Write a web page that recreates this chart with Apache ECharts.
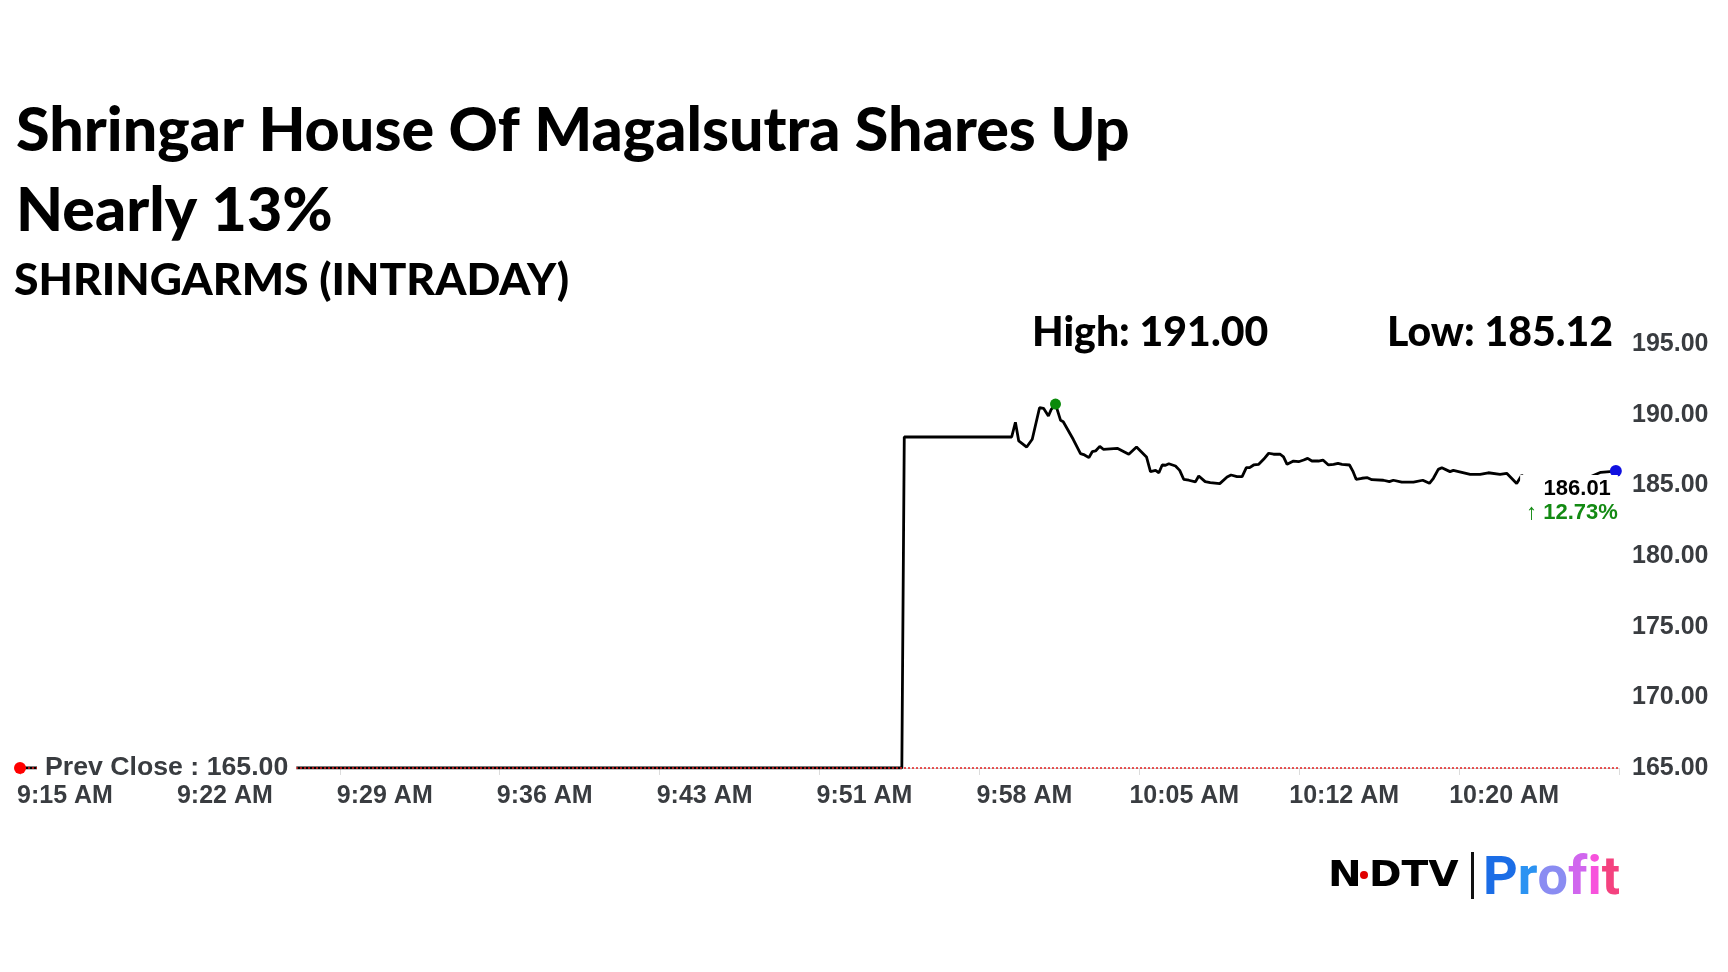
<!DOCTYPE html>
<html><head><meta charset="utf-8">
<script src="https://cdn.jsdelivr.net/npm/echarts@6/dist/echarts.min.js"></script>
<style>html,body{margin:0;padding:0;background:#fff}#c{width:1728px;height:972px}</style>
</head><body><div id="c"></div>
<script>
// ---- texts ----
const titleText = 'Shringar House Of Magalsutra Shares Up\nNearly 13%';
const subtitleText = 'SHRINGARMS (INTRADAY)';
const highValue = 191.00;
const lowValue = 185.12;
const prevClose = 165.00;
const lastPrice = 186.01;
const changePct = 12.73;

// ---- axes ----
const xTickLabels = ['9:15 AM','9:22 AM','9:29 AM','9:36 AM','9:43 AM','9:51 AM','9:58 AM','10:05 AM','10:12 AM','10:20 AM',''];
const xTickStepMin = 65 / 9;      // minutes between labelled ticks
const yAxisMin = 165, yAxisMax = 195, yAxisStep = 5;

// ---- series (minutes after 9:15 AM, price) ----
const minutesFromOpen = [
  0, 39.83, 39.94, 44.79, 44.96, 45.11, 45.47, 45.72, 46.05, 46.23, 46.45, 46.58, 46.77,
  47.00, 47.12, 47.57, 47.90, 48.08, 48.28, 48.43, 48.58, 48.77, 48.93, 49.56, 50.08,
  50.43, 50.88, 51.06, 51.29, 51.44, 51.59, 51.74, 51.89, 52.19, 52.38, 52.56, 52.79,
  53.09, 53.24, 53.53, 53.76, 54.19, 54.52, 54.70, 54.97, 55.20, 55.39, 55.54, 55.72,
  55.95, 56.17, 56.40, 56.62, 56.92, 57.07, 57.23, 57.52, 57.75, 57.98, 58.16, 58.35,
  58.65, 58.85, 59.10, 59.33, 59.53, 59.71, 60.05, 60.20, 60.35, 60.61, 60.86, 61.06,
  61.58, 61.85, 62.03, 62.41, 62.94, 63.36, 63.66, 63.84, 64.06, 64.22, 64.59, 64.74,
  65.50, 65.95, 66.32, 66.85, 67.15, 67.60, 67.83, 68.05, 68.42, 69.55, 70.90, 71.40, 72.08
];
const prices = [
  165.00, 165.00, 188.42, 188.42, 189.46, 188.14, 187.71, 188.26, 190.49, 190.45, 189.91, 190.38, 190.75,
  189.60, 189.50, 188.26, 187.24, 187.15, 186.96, 187.38, 187.43, 187.76, 187.55, 187.62, 187.20,
  187.71, 187.01, 185.97, 186.06, 185.89, 186.44, 186.42, 186.53, 186.37, 186.06, 185.43, 185.36,
  185.24, 185.66, 185.26, 185.19, 185.12, 185.59, 185.73, 185.61, 185.61, 186.25, 186.25, 186.44,
  186.49, 186.84, 187.27, 187.20, 187.20, 187.01, 186.49, 186.72, 186.67, 186.79, 186.91, 186.72,
  186.72, 186.79, 186.44, 186.49, 186.56, 186.49, 186.44, 186.01, 185.43, 185.50, 185.54, 185.40,
  185.36, 185.26, 185.36, 185.22, 185.22, 185.36, 185.14, 185.50, 186.13, 186.25, 185.97, 186.06,
  185.78, 185.78, 185.89, 185.78, 185.85, 185.13, 185.71, 185.43, 185.31, 185.38, 185.59, 185.92, 186.01
];

const lineData = minutesFromOpen.map((m, i) => [m, prices[i]]);
const peakIdx = prices.indexOf(Math.max.apply(null, prices));
const lastIdx = prices.length - 1;

const chart = echarts.init(document.getElementById('c'));
const axisFont = { fontFamily: 'Liberation Sans', fontWeight: 'bold', fontSize: 25, color: '#393c40' };
const headFont = 'Lato';
const headWeight = 900;

const profitColors = ['#1b6de6', '#2b93f2', '#8a8cf2', '#d066ee', '#f752dc', '#f4427f'];
const profitRich = {};
const profitText = 'Profit'.split('').map((ch, i) => {
  profitRich['k' + i] = { fill: profitColors[i], fontFamily: 'Roboto', fontWeight: 'bold', fontSize: 54 };
  return '{k' + i + '|' + ch + '}';
}).join('');

chart.setOption({
  backgroundColor: '#fff',
  animation: false,
  title: [
    { text: titleText, left: 16, top: 91, padding: 0,
      textStyle: { fontFamily: headFont, fontWeight: headWeight, fontSize: 61, lineHeight: 80, color: '#000' } },
    { text: subtitleText, left: 14, top: 258, padding: 0,
      textStyle: { fontFamily: headFont, fontWeight: headWeight, fontSize: 44.5, color: '#000' } },
    { text: 'High: ' + highValue.toFixed(2), left: 1032, top: 312, padding: 0,
      textStyle: { fontFamily: headFont, fontWeight: headWeight, fontSize: 41, color: '#000' } },
    { text: 'Low: ' + lowValue.toFixed(2), left: 1387, top: 312, padding: 0,
      textStyle: { fontFamily: headFont, fontWeight: headWeight, fontSize: 41, color: '#000' } }
  ],
  grid: { left: 20, right: 109, top: 344, bottom: 204, containLabel: false },
  xAxis: {
    type: 'value', min: 0, max: xTickStepMin * (xTickLabels.length - 1), interval: xTickStepMin,
    axisLine: { show: true, lineStyle: { color: '#d6d6d6', width: 1 } },
    axisTick: { show: true, length: 7, lineStyle: { color: '#dcdcdc' } },
    splitLine: { show: false },
    axisLabel: Object.assign({
      margin: 16, align: 'center', padding: [0, 0, 0, 90], showMinLabel: true, showMaxLabel: true,
      formatter: v => xTickLabels[Math.round(v / xTickStepMin)] || ''
    }, axisFont)
  },
  yAxis: {
    type: 'value', position: 'right', min: yAxisMin, max: yAxisMax, interval: yAxisStep,
    axisLine: { show: false }, axisTick: { show: false }, splitLine: { show: false },
    axisLabel: Object.assign({ margin: 13, formatter: v => v.toFixed(2) }, axisFont)
  },
  series: [
    {
      name: 'price', type: 'line', z: 2, data: lineData, showSymbol: false, symbol: 'none',
      lineStyle: { color: '#000', width: 2.8 }, silent: true
    },
    {
      name: 'prevCloseLine', type: 'line', z: 3, data: [], silent: true,
      markLine: {
        symbol: 'none', silent: true, animation: false,
        label: { show: false },
        lineStyle: { color: '#e32020', type: [2, 2], width: 1.5 },
        data: [{ yAxis: prevClose }]
      }
    },
    {
      name: 'marks', type: 'line', z: 5, data: [], silent: true,
      markPoint: {
        animation: false,
        data: [
          { coord: [minutesFromOpen[0], prevClose], symbol: 'circle', symbolSize: 12,
            itemStyle: { color: '#ff0000' },
            label: { show: true, position: 'right', distance: 11,
              formatter: 'Prev Close : ' + prevClose.toFixed(2),
              backgroundColor: '#fff', padding: [2, 8, 2, 8],
              fontFamily: 'Liberation Sans', fontWeight: 'bold', fontSize: 26.7, color: '#393c40' } },
          { coord: [minutesFromOpen[peakIdx], prices[peakIdx]], symbol: 'circle', symbolSize: 11,
            itemStyle: { color: '#0a8a0a' }, label: { show: false } },
          { coord: [minutesFromOpen[lastIdx], lastPrice], symbol: 'circle', symbolSize: 12,
            itemStyle: { color: '#1010e0' },
            label: { show: true, position: [8, 10], align: 'right', verticalAlign: 'top',
              backgroundColor: '#fff', padding: [2, 0, 2, 6],
              formatter: '{p|' + lastPrice.toFixed(2) + '}\n{c|\u2191 ' + changePct.toFixed(2) + '%}',
              rich: {
                p: { fontFamily: 'Liberation Sans', fontWeight: 'bold', fontSize: 22, color: '#000', align: 'right', padding: [0, 7, 0, 0], lineHeight: 24 },
                c: { fontFamily: 'Liberation Sans', fontWeight: 'bold', fontSize: 22, color: '#138a13', align: 'right', lineHeight: 24 }
              } } }
        ]
      }
    }
  ],
  graphic: [
    { type: 'text', x: 1328, y: 877, scaleX: 1.15, style: { text: 'N', fontFamily: 'DejaVu Sans', fontWeight: 'bold', fontSize: 35, fill: '#000', verticalAlign: 'middle' } },
    { type: 'circle', shape: { cx: 1364, cy: 875, r: 4 }, style: { fill: '#e00000' } },
    { type: 'text', x: 1369, y: 877, scaleX: 1.12, style: { text: 'DTV', fontFamily: 'DejaVu Sans', fontWeight: 'bold', fontSize: 35, fill: '#000', verticalAlign: 'middle' } },
    { type: 'rect', shape: { x: 1471, y: 852, width: 3, height: 47 }, style: { fill: '#111' } },
    { type: 'text', x: 1483, y: 880, style: { text: profitText, rich: profitRich, fontFamily: 'Roboto', fontWeight: 'bold', fontSize: 54, verticalAlign: 'middle' } }
  ]
});
</script></body></html>
